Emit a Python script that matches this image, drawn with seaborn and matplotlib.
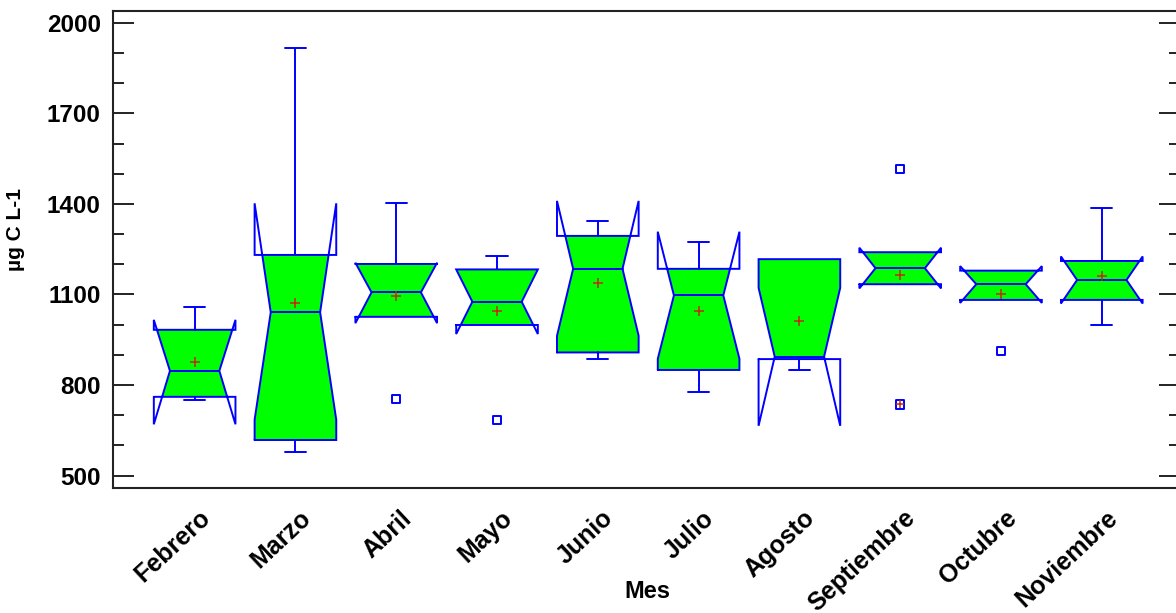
import matplotlib
matplotlib.use("Agg")
import matplotlib.pyplot as plt
from matplotlib.transforms import ScaledTranslation
from matplotlib.ticker import MultipleLocator
import numpy as np
import pandas as pd
import seaborn as sns

# Monthly summary statistics (µg C L-1)
months = ["Febrero", "Marzo", "Abril", "Mayo", "Junio", "Julio",
          "Agosto", "Septiembre", "Octubre", "Noviembre"]
whisker_low = [751, 577, 1026, 999, 886, 778, 850, 1134, 1082, 999]
q1 = [761, 618, 1026, 999, 908, 850, 886, 1134, 1082, 1082]
median = [847, 1041, 1107, 1076, 1185, 1097, 894, 1187, 1134, 1148]
q3 = [983, 1231, 1201, 1183, 1294, 1185, 1217, 1240, 1179, 1211]
whisker_high = [1060, 1917, 1402, 1227, 1344, 1273, 1217, 1240, 1179, 1385]
notch_low = [670, 685, 1005, 969, 963, 887, 665, 1120, 1072, 1070]
notch_high = [1016, 1402, 1205, 1183, 1410, 1308, 1122, 1255, 1194, 1226]
means = [875, 1071, 1096, 1045, 1139, 1044, 1013, 1165, 1103, 1162]

# Points outside the whiskers
outlier_month = ["Abril", "Mayo", "Septiembre", "Septiembre", "Octubre"]
outlier_value = [753, 684, 1515, 736, 912]
outlier_far = [False, False, False, True, False]

BLUE = "#0000FF"
GREEN = "#00FF00"
RED = "#C02A10"

sns.set_theme(style="ticks")
plt.rcParams["font.family"] = ["Liberation Sans", "DejaVu Sans"]
plt.rcParams["font.weight"] = "bold"
plt.rcParams["text.color"] = "black"
plt.rcParams["axes.labelcolor"] = "black"

fig = plt.figure(figsize=(11.76, 6.13), dpi=100)
ax = fig.add_axes([113.3 / 1176, 1 - 488.3 / 613, (1180 - 113.3) / 1176, (488.3 - 10.7) / 613])

half_box = 0.405
half_waist = 0.245
half_cap = 0.105
lw = 1.4


def side_x(y, med, nlo, nhi):
    """Half-width of the notched box at height y."""
    if nlo < y < med:
        return half_waist + (half_box - half_waist) * (med - y) / (med - nlo)
    if med <= y < nhi:
        return half_waist + (half_box - half_waist) * (y - med) / (nhi - med)
    return half_box


for i in range(len(months)):
    lo, md, hi = q1[i], median[i], q3[i]
    nlo, nhi = notch_low[i], notch_high[i]

    # filled body limited to the interquartile range
    ys = [lo]
    if lo < nlo < md:
        ys.append(nlo)
    ys.append(md)
    if md < nhi < hi:
        ys.append(nhi)
    ys.append(hi)
    right = [(i + side_x(y, md, nlo, nhi), y) for y in ys]
    left = [(i - side_x(y, md, nlo, nhi), y) for y in ys[::-1]]
    poly = right + left
    ax.fill([p[0] for p in poly], [p[1] for p in poly], color=GREEN, lw=0, zorder=2)

    # notched outline (notches may reach past the quartiles)
    ox = [i - half_box, i + half_box, i + half_box, i + half_waist, i + half_box,
          i + half_box, i - half_box, i - half_box, i - half_waist, i - half_box, i - half_box]
    oy = [lo, lo, nlo, md, nhi, hi, hi, nhi, md, nlo, lo]
    ax.plot(ox, oy, color=BLUE, lw=lw, zorder=3, solid_joinstyle="miter")
    ax.plot([i - half_waist, i + half_waist], [md, md], color=BLUE, lw=lw, zorder=3)

    # whiskers
    if whisker_high[i] > hi:
        ax.plot([i, i], [hi, whisker_high[i]], color=BLUE, lw=lw, zorder=3)
        ax.plot([i - half_cap, i + half_cap], [whisker_high[i]] * 2, color=BLUE, lw=lw, zorder=3)
    if whisker_low[i] < lo:
        ax.plot([i, i], [lo, whisker_low[i]], color=BLUE, lw=lw, zorder=3)
        ax.plot([i - half_cap, i + half_cap], [whisker_low[i]] * 2, color=BLUE, lw=lw, zorder=3)

pos = {m: k for k, m in enumerate(months)}
out = pd.DataFrame({"x": [pos[m] for m in outlier_month], "y": outlier_value, "far": outlier_far})
mean_df = pd.DataFrame({"x": range(len(months)), "y": means})

sns.scatterplot(data=out, x="x", y="y", marker="s", s=36, facecolor="none",
                edgecolor=BLUE, linewidth=1.4, ax=ax, zorder=4, legend=False)
far = out[out["far"]]
sns.scatterplot(data=far, x="x", y="y", marker="+", s=40, color=RED,
                linewidth=1.1, ax=ax, zorder=5, legend=False)
sns.scatterplot(data=mean_df, x="x", y="y", marker="+", s=50, color=RED,
                linewidth=1.1, ax=ax, zorder=5, legend=False)

ax.set_xlim(-0.807, 9.776)
ax.set_ylim(458, 2040)

ax.yaxis.set_minor_locator(MultipleLocator(100))
ax.set_yticks([500, 800, 1100, 1400, 1700, 2000])
ax.tick_params(axis="y", which="both", direction="in", left=True, right=True,
               colors="#222222", width=1.4, labelcolor="black", labelsize=17.5, pad=9)
ax.tick_params(axis="y", which="major", length=15)
ax.tick_params(axis="y", which="minor", length=8)
for lab in ax.get_yticklabels():
    lab.set_fontweight("bold")

ax.set_xticks(range(len(months)))
ax.set_xticklabels(months, rotation=43, ha="right", va="center",
                   rotation_mode="anchor", fontsize=18, fontweight="bold")
ax.tick_params(axis="x", which="both", length=0, pad=19, labelcolor="black")
shift = ScaledTranslation(12 / 100, 0, fig.dpi_scale_trans)
for lab in ax.get_xticklabels():
    lab.set_transform(lab.get_transform() + shift)

for sp in ax.spines.values():
    sp.set_color("#222222")
    sp.set_linewidth(1.5)

ax.set_ylabel("µg C L-1", fontsize=15, fontweight="bold", color="black")
ax.yaxis.set_label_coords(-0.0828, 0.541)
ax.set_xlabel("Mes", fontsize=17, fontweight="bold", color="black")
ax.xaxis.set_label_coords(0.501, -0.192)

fig.savefig("out.png", dpi=100)
